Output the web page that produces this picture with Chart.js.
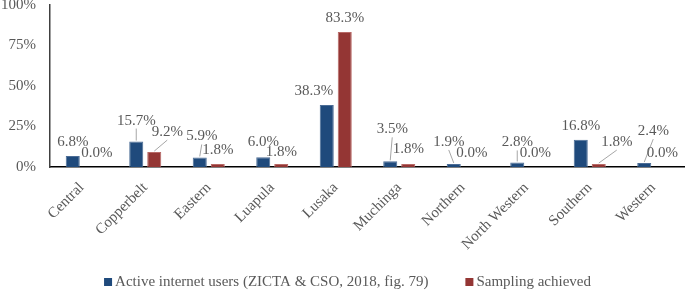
<!DOCTYPE html>
<html><head><meta charset="utf-8">
<script src="https://cdn.jsdelivr.net/npm/chart.js@4"></script>
<style>html,body{margin:0;padding:0;background:#fff}#wrap{width:685px;height:290px;position:relative}</style>
</head><body><div id="wrap"><canvas id="c"></canvas></div>
<script>
// ---- data ----
const categories = ["Central","Copperbelt","Eastern","Luapula","Lusaka","Muchinga","Northern","North Western","Southern","Western"];
const activeUsers = [6.8,15.7,5.9,6.0,38.3,3.5,1.9,2.8,16.8,2.4];
const samplingAchieved = [0.0,9.2,1.8,1.8,83.3,1.8,0.0,0.0,1.8,0.0];
const seriesNames = ["Active internet users (ZICTA & CSO, 2018, fig. 79)","Sampling achieved"];
const yTickValues = [0,25,50,75,100];

// ---- label placement (pixel shifts from bar top, style only) ----
const labelShift = [
  [[0,-14],[0,-21],[2,-21],[0,-15],[-13,-14],[2,-32],[-5,-22],[0,-20],[0,-14],[9,-32]],
  [[6,-14],[13,-20],[0,-14],[0,-12],[0,-14],[0,-15],[0,-14],[0,-14],[18,-22],[0,-14]]
];

const FONT = "'Liberation Serif', 'Times New Roman', serif";
const TXT = '#595959';

const labelPlugin = {
  id: 'barLabels',
  afterDatasetsDraw(chart) {
    const ctx = chart.ctx;
    ctx.save();
    ctx.font = '15px ' + FONT;
    ctx.textAlign = 'center';
    ctx.textBaseline = 'middle';
    chart.data.datasets.forEach((ds, di) => {
      const meta = chart.getDatasetMeta(di);
      meta.data.forEach((el, i) => {
        const [dx, dy] = labelShift[di][i];
        const lx = el.x + dx, ly = el.y + dy;
        if (dy <= -19) {
          ctx.strokeStyle = '#a6a6a6';
          ctx.lineWidth = 1;
          ctx.beginPath();
          ctx.moveTo(lx, ly + 8);
          ctx.lineTo(el.x, el.y - 1);
          ctx.stroke();
        }
        ctx.fillStyle = TXT;
        ctx.fillText(ds.data[i].toFixed(1) + '%', lx, ly);
      });
    });
    ctx.restore();
  },
  afterDraw(chart) {
    // legend drawn from the datasets
    const ctx = chart.ctx;
    ctx.save();
    ctx.font = '15px ' + FONT;
    ctx.textBaseline = 'middle';
    ctx.textAlign = 'left';
    const box = 8, gap = 3, spacing = 37;
    const items = chart.data.datasets.map(ds => ({ text: ds.label, color: ds.backgroundColor, w: ctx.measureText(ds.label).width }));
    let total = items.reduce((s, it) => s + box + gap + it.w, 0) + spacing * (items.length - 1);
    let x = (chart.width - total) / 2 + 5;
    const y = 282;
    items.forEach(it => {
      ctx.fillStyle = it.color;
      ctx.fillRect(x, y - box / 2, box, box);
      ctx.fillStyle = TXT;
      ctx.fillText(it.text, x + box + gap, y);
      x += box + gap + it.w + spacing;
    });
    ctx.restore();
  }
};

new Chart(document.getElementById('c'), {
  type: 'bar',
  data: {
    labels: categories,
    datasets: [
      { label: seriesNames[0], data: activeUsers, backgroundColor: '#1f4a7c', borderColor: '#4c6d96', borderWidth: 1 },
      { label: seriesNames[1], data: samplingAchieved, backgroundColor: '#943634', borderColor: '#b86966', borderWidth: 1 }
    ]
  },
  options: {
    responsive: true,
    maintainAspectRatio: false,
    animation: false,
    categoryPercentage: 0.567,
    barPercentage: 0.78,
    layout: { padding: { top: 0, left: 0, right: 0, bottom: 28 } },
    scales: {
      x: {
        grid: { display: false, drawTicks: false },
        border: { display: true, color: '#000', width: 1.5 },
        ticks: { color: TXT, font: { family: FONT, size: 15 }, maxRotation: 45, minRotation: 45, autoSkip: false, padding: 12 },
        afterFit(axis) { axis.height = 95; axis.paddingLeft = 0; axis.paddingRight = 0; }
      },
      y: {
        min: 0, max: 100,
        afterBuildTicks(axis) { axis.ticks = yTickValues.map(v => ({ value: v })); },
        grid: { display: false, drawTicks: false },
        border: { display: true, color: '#404040', width: 1.5 },
        ticks: { color: TXT, font: { family: FONT, size: 15 }, padding: 14, callback: v => v + '%' },
        afterFit(axis) { axis.width = 50; axis.paddingTop = 5; axis.paddingBottom = 0; }
      }
    },
    plugins: {
      legend: { display: false },
      tooltip: { enabled: false }
    }
  },
  plugins: [labelPlugin]
});
</script>
</body></html>
